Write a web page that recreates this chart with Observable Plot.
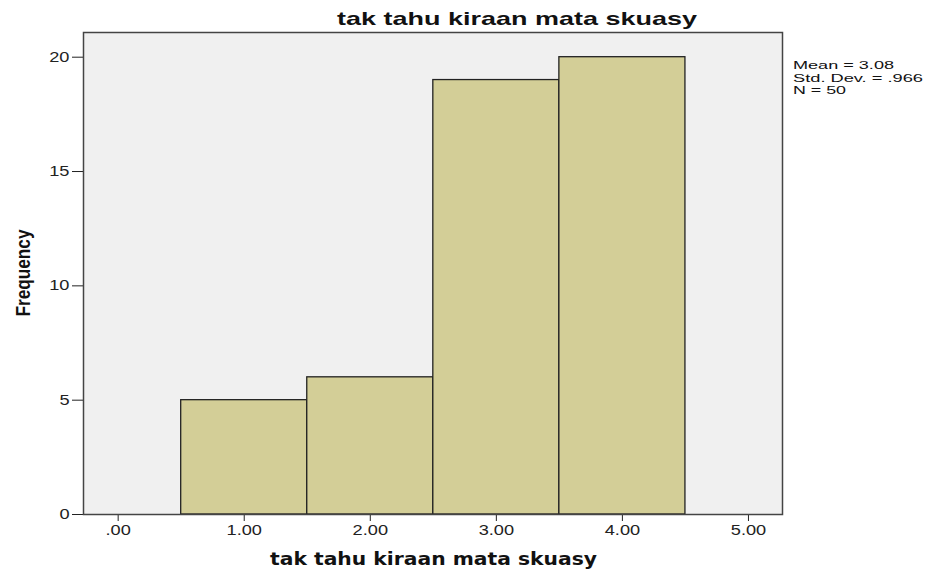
<!DOCTYPE html>
<html><head><meta charset="utf-8">
<script src="https://cdn.jsdelivr.net/npm/d3@7"></script>
<script src="https://cdn.jsdelivr.net/npm/@observablehq/plot@0.6"></script>
<style>
body{margin:0;background:#fff;}
svg{display:block;}
</style></head>
<body><div id="chart"></div>
<script>
const binCenters = [1, 2, 3, 4];
const frequencies = [5, 6, 19, 20];
const xTicks = [0, 1, 2, 3, 4, 5];
const yTicks = [0, 5, 10, 15, 20];
const title = "tak tahu kiraan mata skuasy";
const xLabel = "tak tahu kiraan mata skuasy";
const yLabel = "Frequency";
const stats = ["Mean = 3.08", "Std. Dev. = .966", "N = 50"];

const bars = binCenters.map((c, i) => ({x1: c - 0.5, x2: c + 0.5, y: frequencies[i]}));

const W = 928, H = 571;
const FONT = "Arial, 'Liberation Sans', sans-serif";
const plot = Plot.plot({
  width: W, height: H,
  marginLeft: 83, marginRight: 146, marginTop: 32, marginBottom: 57,
  style: {fontFamily: FONT, fontSize: "14px", color: "#222", background: "#fff"},
  x: {domain: [-0.275, 5.27], ticks: xTicks, tickFormat: d => d === 0 ? ".00" : d.toFixed(2), label: null, tickSize: 7, tickPadding: 4},
  y: {domain: [0, 21.08], ticks: yTicks, label: null, tickSize: 11, tickPadding: 3},
  marks: [
    Plot.frame({fill: "#f0f0f0", stroke: null}),
    Plot.rect(bars, {x1: "x1", x2: "x2", y1: 0, y2: "y", fill: "#d3ce97", stroke: "#222", strokeWidth: 1.3}),
    Plot.frame({stroke: "#444", strokeWidth: 1.5})
  ]
});
document.getElementById("chart").appendChild(plot);
const svg = d3.select(plot);

// horizontally stretch axis tick labels like the reference
svg.selectAll("g[aria-label$='tick label'] text").each(function() {
  const w = this.getComputedTextLength();
  d3.select(this).attr("textLength", w * 1.3).attr("lengthAdjust", "spacingAndGlyphs");
});

function addText(x, y, txt, opts) {
  const t = svg.append("text").attr("x", x).attr("y", y).attr("text-anchor", opts.anchor || "start")
    .style("font-family", opts.font || FONT).style("font-weight", opts.weight || "normal")
    .style("font-size", opts.size + "px").attr("fill", "#111").text(txt);
  if (opts.length) t.attr("textLength", opts.length).attr("lengthAdjust", "spacingAndGlyphs");
  if (opts.transform) t.attr("transform", opts.transform);
  return t;
}
addText(337, 25, title, {size: 19, weight: "bold", length: 360});
addText(270, 565, xLabel, {size: 18, weight: "bold", font: "'DejaVu Sans', Verdana, sans-serif", length: 327});
svg.append("text").attr("transform", "translate(30,273) rotate(-90)").attr("text-anchor", "middle")
  .style("font-family", "'Liberation Sans Narrow', 'Arial Narrow', Arial, sans-serif").style("font-weight", "bold")
  .style("font-size", "21px").attr("fill", "#111").attr("textLength", 87).attr("lengthAdjust", "spacingAndGlyphs").text(yLabel);
const statWidths = [101, 130, 53];
stats.forEach((s, i) => {
  addText(793, 69 + i * 12.5, s, {size: 11.5, length: statWidths[i]});
});
</script></body></html>
